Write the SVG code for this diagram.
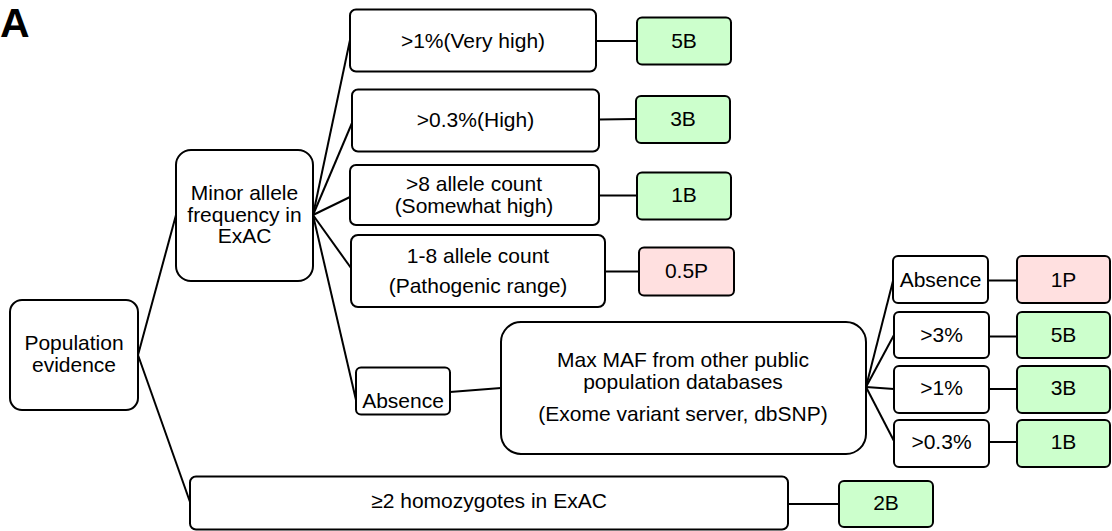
<svg xmlns="http://www.w3.org/2000/svg" width="1112" height="531" viewBox="0 0 1112 531">
  <style>
    .box { fill: #ffffff; stroke: #000000; stroke-width: 2; }
    .ben { fill: #ccffcc; stroke: #000000; stroke-width: 2; }
    .pat { fill: #ffe0e0; stroke: #000000; stroke-width: 2; }
    .lbl { font-family: "Liberation Sans", Arial, sans-serif; font-size: 21px; fill: #000000; text-anchor: middle; }
    .panel { font-family: "Liberation Sans", Arial, sans-serif; font-size: 41px; font-weight: bold; fill: #000000; }
    #connectors line { stroke: #000000; stroke-width: 2; fill: none; }
  </style>
  <rect width="1112" height="531" fill="#ffffff"/>

  <text class="panel" x="0" y="37">A</text>

  <!-- connectors -->
  <g id="connectors">
    <line x1="138" y1="355" x2="176" y2="215"/>
    <line x1="138" y1="355" x2="190" y2="502"/>
    <line x1="313" y1="215" x2="350" y2="40"/>
    <line x1="313" y1="215" x2="352" y2="123"/>
    <line x1="313" y1="215" x2="350" y2="197"/>
    <line x1="313" y1="215" x2="351" y2="268"/>
    <line x1="313" y1="215" x2="356" y2="400"/>
    <line x1="596" y1="41" x2="637" y2="41"/>
    <line x1="599" y1="119.5" x2="636" y2="119"/>
    <line x1="599" y1="195.5" x2="637" y2="195.5"/>
    <line x1="605" y1="271.5" x2="639" y2="271.5"/>
    <line x1="450" y1="392" x2="501" y2="388"/>
    <line x1="866" y1="387" x2="894" y2="277"/>
    <line x1="866" y1="387" x2="894" y2="335"/>
    <line x1="866" y1="387" x2="894" y2="389"/>
    <line x1="866" y1="387" x2="894" y2="441"/>
    <line x1="988" y1="280.5" x2="1017" y2="280.5"/>
    <line x1="989" y1="336.5" x2="1017" y2="336.5"/>
    <line x1="989" y1="389" x2="1017" y2="389"/>
    <line x1="989" y1="442" x2="1017" y2="442"/>
    <line x1="788" y1="504" x2="839" y2="504"/>
  </g>

  <g id="population-evidence">
    <rect class="box" x="10" y="300" width="128" height="110" rx="12"/>
    <text class="lbl" x="74" y="350">Population</text>
    <text class="lbl" x="74" y="372">evidence</text>
  </g>

  <g id="maf-exac">
    <rect class="box" x="176" y="150" width="137" height="131" rx="15"/>
    <text class="lbl" x="244.5" y="200">Minor allele</text>
    <text class="lbl" x="244.5" y="222">frequency in</text>
    <text class="lbl" x="244.5" y="243">ExAC</text>
  </g>

  <g id="very-high">
    <rect class="box" x="350" y="9.5" width="246" height="62" rx="6"/>
    <text class="lbl" x="473" y="48">&gt;1%(Very high)</text>
  </g>
  <g id="score-5b">
    <rect class="ben" x="637" y="17.5" width="94" height="47" rx="5"/>
    <text class="lbl" x="684" y="48">5B</text>
  </g>

  <g id="high">
    <rect class="box" x="352" y="89.5" width="247" height="62" rx="6"/>
    <text class="lbl" x="475.5" y="127">&gt;0.3%(High)</text>
  </g>
  <g id="score-3b">
    <rect class="ben" x="636" y="96" width="94" height="47" rx="5"/>
    <text class="lbl" x="683" y="126">3B</text>
  </g>

  <g id="somewhat-high">
    <rect class="box" x="350" y="165" width="249" height="60" rx="6"/>
    <text class="lbl" x="474" y="191">&gt;8 allele count</text>
    <text class="lbl" x="474" y="212.5">(Somewhat high)</text>
  </g>
  <g id="score-1b">
    <rect class="ben" x="637" y="172.5" width="94" height="47" rx="5"/>
    <text class="lbl" x="684" y="202">1B</text>
  </g>

  <g id="pathogenic-range">
    <rect class="box" x="351" y="235" width="254" height="72" rx="7"/>
    <text class="lbl" x="478" y="263">1-8 allele count</text>
    <text class="lbl" x="478" y="293">(Pathogenic range)</text>
  </g>
  <g id="score-05p">
    <rect class="pat" x="639" y="247.5" width="95" height="48" rx="5"/>
    <text class="lbl" x="686.5" y="278">0.5P</text>
  </g>

  <g id="absence-exac">
    <rect class="box" x="356" y="367.5" width="94" height="47" rx="5"/>
    <text class="lbl" x="403" y="408">Absence</text>
  </g>

  <g id="max-maf">
    <rect class="box" x="501" y="322" width="365" height="132" rx="20"/>
    <text class="lbl" x="683" y="367">Max MAF from other public</text>
    <text class="lbl" x="683" y="389">population databases</text>
    <text class="lbl" x="683" y="421">(Exome variant server, dbSNP)</text>
  </g>

  <g id="absence-public">
    <rect class="box" x="893" y="256" width="95" height="47" rx="5"/>
    <text class="lbl" x="940.5" y="287">Absence</text>
  </g>
  <g id="score-1p">
    <rect class="pat" x="1017" y="256" width="93" height="47" rx="5"/>
    <text class="lbl" x="1063.5" y="287">1P</text>
  </g>

  <g id="over-3pct">
    <rect class="box" x="894" y="312" width="95" height="46" rx="5"/>
    <text class="lbl" x="941.5" y="342">&gt;3%</text>
  </g>
  <g id="public-5b">
    <rect class="ben" x="1017" y="312" width="93" height="46" rx="5"/>
    <text class="lbl" x="1063.5" y="342">5B</text>
  </g>

  <g id="over-1pct">
    <rect class="box" x="894" y="366" width="95" height="47" rx="5"/>
    <text class="lbl" x="941.5" y="395">&gt;1%</text>
  </g>
  <g id="public-3b">
    <rect class="ben" x="1017" y="366" width="93" height="47" rx="5"/>
    <text class="lbl" x="1063.5" y="395">3B</text>
  </g>

  <g id="over-03pct">
    <rect class="box" x="894" y="420" width="95" height="47" rx="5"/>
    <text class="lbl" x="941.5" y="449">&gt;0.3%</text>
  </g>
  <g id="public-1b">
    <rect class="ben" x="1017" y="420" width="93" height="47" rx="5"/>
    <text class="lbl" x="1063.5" y="449">1B</text>
  </g>

  <g id="homozygotes">
    <rect class="box" x="190" y="476.5" width="598" height="53" rx="6"/>
    <text class="lbl" x="489" y="508">≥2 homozygotes in ExAC</text>
  </g>
  <g id="score-2b">
    <rect class="ben" x="839" y="481" width="94" height="46" rx="5"/>
    <text class="lbl" x="886" y="510">2B</text>
  </g>
</svg>
